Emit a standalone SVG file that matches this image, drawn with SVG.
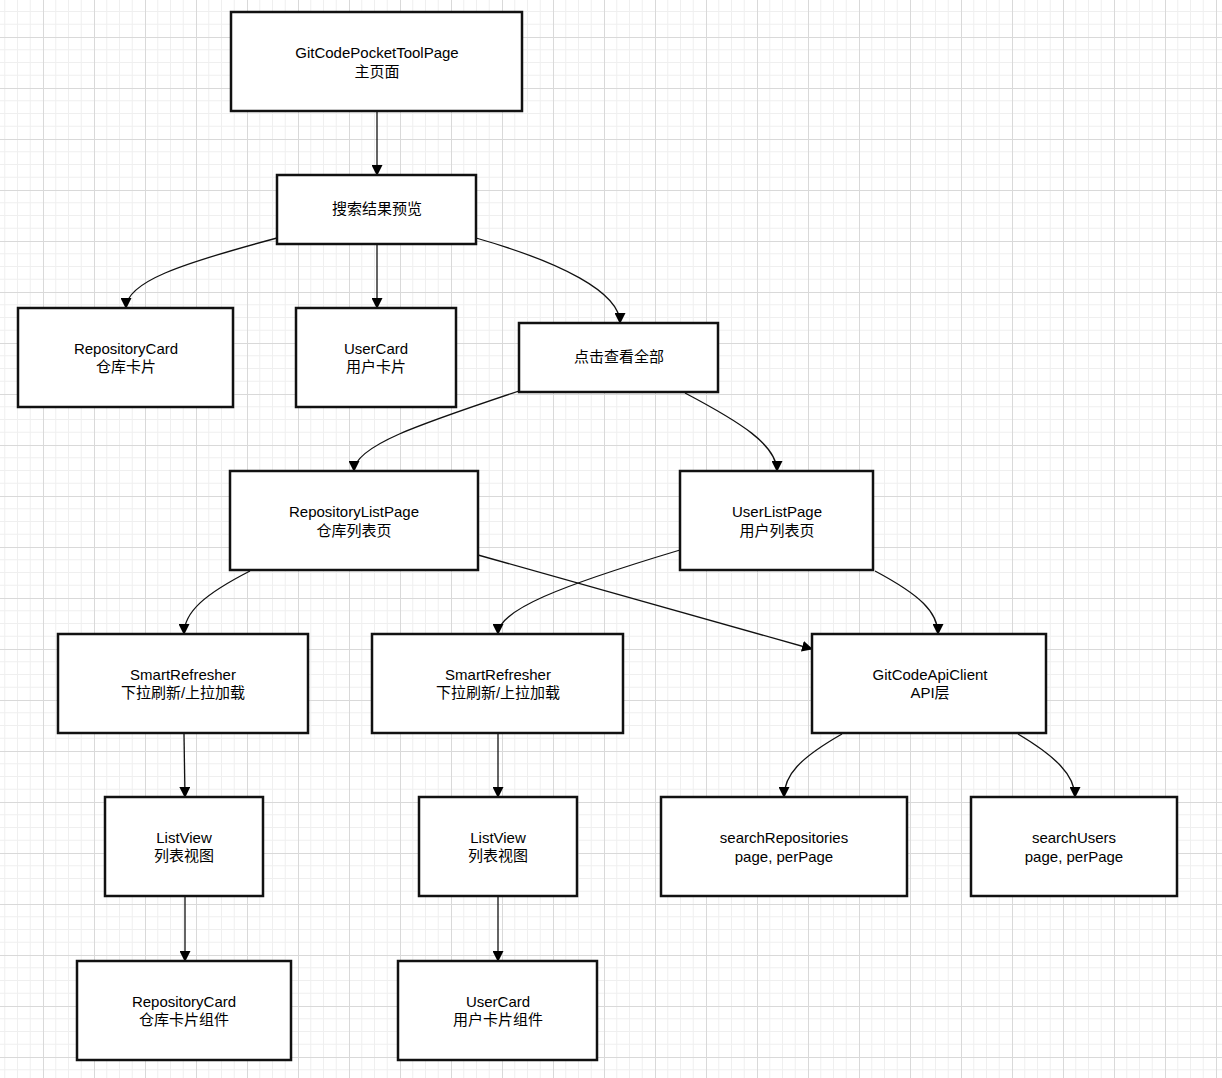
<svg xmlns="http://www.w3.org/2000/svg" width="1222" height="1078" viewBox="0 0 1222 1078">
<defs>
<pattern id="grid" patternUnits="userSpaceOnUse" x="43" y="37" width="51" height="51">
<rect width="51" height="51" fill="#ffffff"/>
<path d="M12.75 0V51M25.5 0V51M38.25 0V51M0 12.75H51M0 25.5H51M0 38.25H51" stroke="#efefef" stroke-width="1" fill="none"/>
<path d="M0.5 0V51M0 0.5H51" stroke="#d9d9d9" stroke-width="1" fill="none"/>
</pattern>
<marker id="arr" markerWidth="11" markerHeight="11" refX="10" refY="5.5" orient="auto" markerUnits="userSpaceOnUse">
<path d="M0,0 L11,5.5 L0,11 Z" fill="#000"/>
</marker>
<style>
.box{fill:#fff;stroke:#111;stroke-width:2.5}
.t{font-family:"Liberation Sans","Noto Sans CJK SC",Arial,sans-serif;font-size:15px;fill:#000;text-anchor:middle}
.e{fill:none;stroke:#111;stroke-width:1.3;marker-end:url(#arr)}
</style>
</defs>
<rect width="1222" height="1078" fill="url(#grid)"/>
<g id="connectors">
<path class="e" d="M377,111 L377,175"/>
<path class="e" d="M277,238 C180,264 126,282 126,308"/>
<path class="e" d="M377,244 L377,308"/>
<path class="e" d="M476,238 C560,262 620,292 620,323"/>
<path class="e" d="M519,391 C420,424 354,446 354,471"/>
<path class="e" d="M685,393 C740,422 777,445 777,471"/>
<path class="e" d="M250,571 C205,594 184,612 184,634"/>
<path class="e" d="M478,555 L812,649"/>
<path class="e" d="M680,550 C560,586 498,610 498,634"/>
<path class="e" d="M875,571 C920,595 938,612 938,634"/>
<path class="e" d="M184,734 L185,797"/>
<path class="e" d="M498,734 L498,797"/>
<path class="e" d="M842,734 C800,758 784,775 784,797"/>
<path class="e" d="M1018,734 C1055,756 1075,775 1075,797"/>
<path class="e" d="M185,896 L185,961"/>
<path class="e" d="M498,896 L498,961"/>
</g>
<g id="n-main"><rect class="box" x="231" y="12" width="291" height="99"/><text class="t" x="377" y="58">GitCodePocketToolPage</text><text class="t" x="377" y="77">主页面</text></g>
<g id="n-preview"><rect class="box" x="277" y="175" width="199" height="69"/><text class="t" x="377" y="214">搜索结果预览</text></g>
<g id="n-repocard"><rect class="box" x="18" y="308" width="215" height="99"/><text class="t" x="126" y="354">RepositoryCard</text><text class="t" x="126" y="372">仓库卡片</text></g>
<g id="n-usercard"><rect class="box" x="296" y="308" width="160" height="99"/><text class="t" x="376" y="354">UserCard</text><text class="t" x="376" y="372">用户卡片</text></g>
<g id="n-viewall"><rect class="box" x="519" y="323" width="199" height="69"/><text class="t" x="619" y="362">点击查看全部</text></g>
<g id="n-repolist"><rect class="box" x="230" y="471" width="248" height="99"/><text class="t" x="354" y="517">RepositoryListPage</text><text class="t" x="354" y="536">仓库列表页</text></g>
<g id="n-userlist"><rect class="box" x="680" y="471" width="193" height="99"/><text class="t" x="777" y="517">UserListPage</text><text class="t" x="777" y="536">用户列表页</text></g>
<g id="n-sr1"><rect class="box" x="58" y="634" width="250" height="99"/><text class="t" x="183" y="680">SmartRefresher</text><text class="t" x="183" y="698">下拉刷新/上拉加载</text></g>
<g id="n-sr2"><rect class="box" x="372" y="634" width="251" height="99"/><text class="t" x="498" y="680">SmartRefresher</text><text class="t" x="498" y="698">下拉刷新/上拉加载</text></g>
<g id="n-api"><rect class="box" x="812" y="634" width="234" height="99"/><text class="t" x="930" y="680">GitCodeApiClient</text><text class="t" x="930" y="698">API层</text></g>
<g id="n-lv1"><rect class="box" x="105" y="797" width="158" height="99"/><text class="t" x="184" y="843">ListView</text><text class="t" x="184" y="861">列表视图</text></g>
<g id="n-lv2"><rect class="box" x="419" y="797" width="158" height="99"/><text class="t" x="498" y="843">ListView</text><text class="t" x="498" y="861">列表视图</text></g>
<g id="n-searchrepo"><rect class="box" x="661" y="797" width="246" height="99"/><text class="t" x="784" y="843">searchRepositories</text><text class="t" x="784" y="862">page, perPage</text></g>
<g id="n-searchuser"><rect class="box" x="971" y="797" width="206" height="99"/><text class="t" x="1074" y="843">searchUsers</text><text class="t" x="1074" y="862">page, perPage</text></g>
<g id="n-repocomp"><rect class="box" x="77" y="961" width="214" height="99"/><text class="t" x="184" y="1007">RepositoryCard</text><text class="t" x="184" y="1025">仓库卡片组件</text></g>
<g id="n-usercomp"><rect class="box" x="398" y="961" width="199" height="99"/><text class="t" x="498" y="1007">UserCard</text><text class="t" x="498" y="1025">用户卡片组件</text></g>
</svg>
